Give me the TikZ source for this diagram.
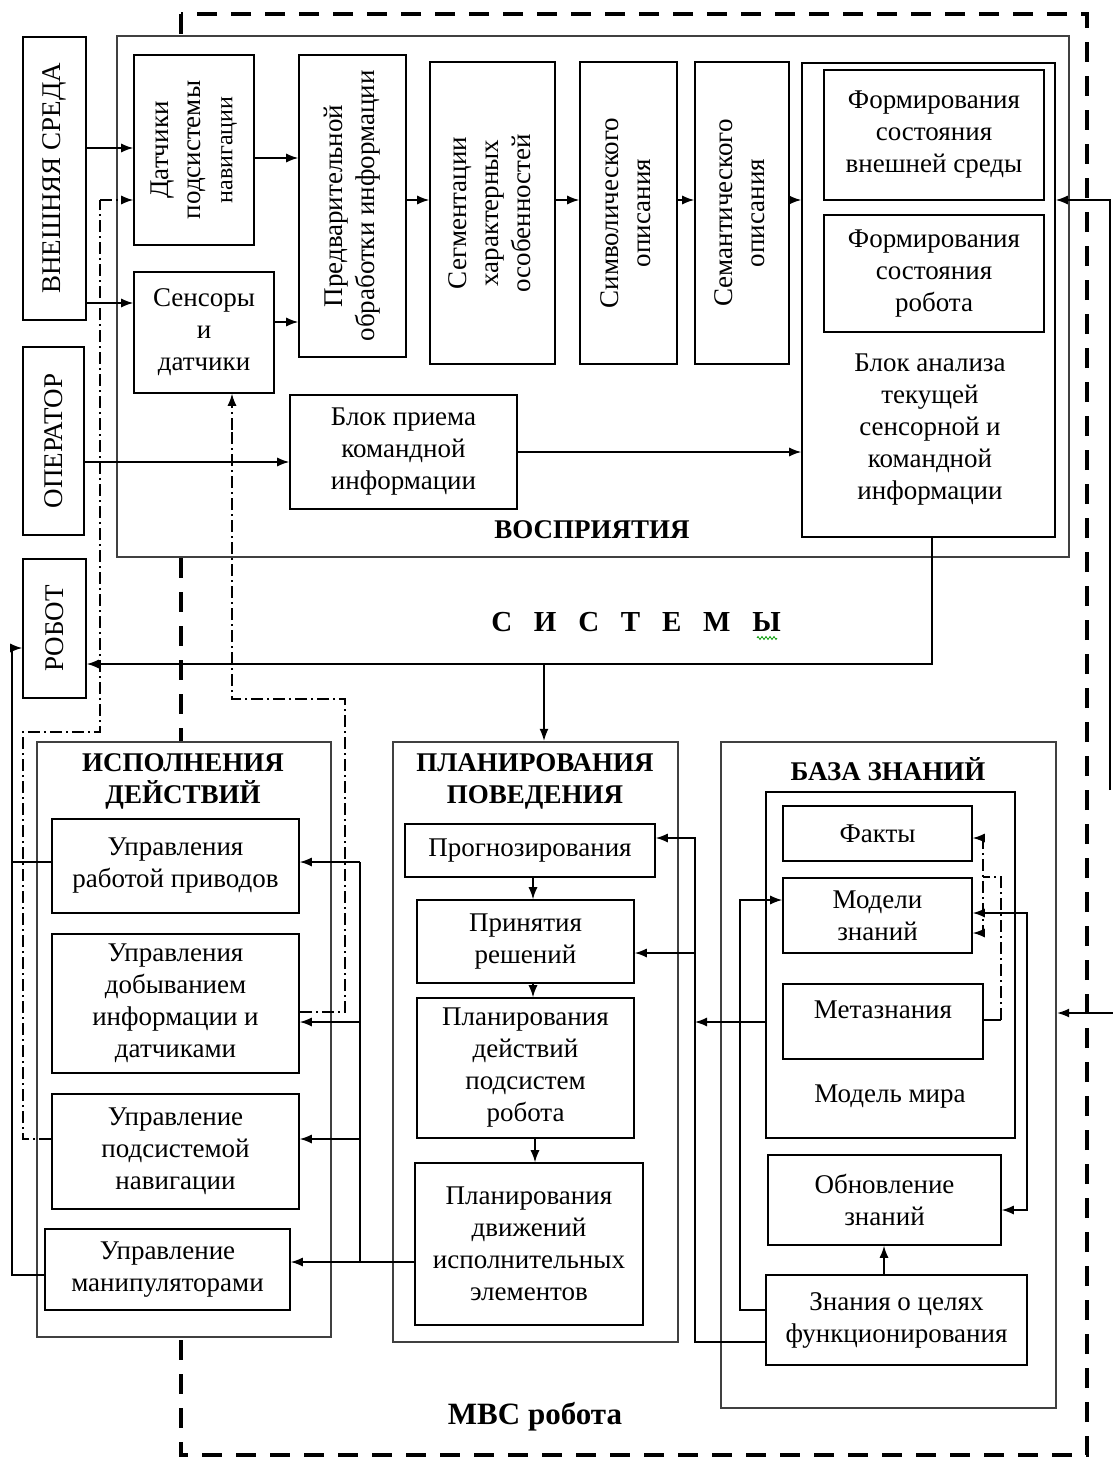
\documentclass[tikz,border=0pt]{standalone}
\usepackage{fontspec}
\setmainfont{Liberation Serif}
\usepackage{graphicx}
\usetikzlibrary{arrows.meta,decorations.pathmorphing}
\newcommand{\rtxt}[1]{\rotatebox{90}{\begin{tabular}{@{}c@{}}#1\end{tabular}}}
\begin{document}
\begin{tikzpicture}[x=1pt,y=-1pt,
  font=\fontsize{27}{32}\selectfont,
  bx/.style={draw, line width=1.6pt, fill=white, inner sep=0pt, align=center},
  cont/.style={draw=black!75, line width=2.4pt, fill=white, inner sep=0pt},
  txt/.style={align=center, inner sep=0pt},
  ttl/.style={align=center, inner sep=0pt, font=\fontsize{27}{32}\selectfont\bfseries},
  ln/.style={line width=1.3pt},
  arr/.style={line width=1.3pt, -{Latex[length=12pt,width=9pt]}},
  arrb/.style={line width=1.3pt, {Latex[length=12pt,width=9pt]}-{Latex[length=12pt,width=9pt]}},
  dd/.style={line width=1.2pt, dash pattern=on 12pt off 4pt on 2pt off 4pt},
  bigdash/.style={line width=4pt, dash pattern=on 20pt off 14pt}
]
\useasboundingbox (0,0) rectangle (1113,1461);
\fill[white] (0,0) rectangle (1113,1461);

% outer dashed frame (MVS robota)
\draw[bigdash] (181,14) rectangle (1087,1455);

% external boxes
\node[bx, minimum width=63pt, minimum height=283pt] (vs) at (54.5,178.5) {\rotatebox{90}{ВНЕШНЯЯ СРЕДА}};
\node[bx, minimum width=61pt, minimum height=188pt] (op) at (53.5,441) {\rotatebox{90}{ОПЕРАТОР}};
\node[bx, minimum width=63pt, minimum height=139pt] (rob) at (54.5,628.5) {\rotatebox{90}{РОБОТ}};

% perception system
\node[cont, minimum width=952pt, minimum height=521pt] (vospr) at (593,296.5) {};
\node[bx, minimum width=120pt, minimum height=190pt] (dat) at (194,150) {\rtxt{Датчики\\подсистемы\\{\fontsize{24}{30}\selectfont навигации}}};
\node[bx, minimum width=140pt, minimum height=121pt] (sen) at (204,332.5) {Сенсоры\\и\\датчики};
\node[bx, minimum width=107pt, minimum height=302pt] (pred) at (352.5,206) {\rtxt{Предварительной\\обработки информации}};
\node[bx, minimum width=125pt, minimum height=302pt] (seg) at (492.5,213) {\rtxt{Сегментации\\характерных\\особенностей}};
\node[bx, minimum width=97pt, minimum height=302pt] (sym) at (628.5,213) {\rtxt{Символического\\описания}};
\node[bx, minimum width=94pt, minimum height=302pt] (sem) at (742,213) {\rtxt{Семантического\\описания}};
\node[bx, minimum width=253pt, minimum height=474pt] (an) at (928.5,300) {};
\node[bx, minimum width=220pt, minimum height=130pt] (f1) at (934,135) {Формирования\\состояния\\внешней среды};
\node[bx, minimum width=220pt, minimum height=117pt] (f2) at (934,273.5) {Формирования\\состояния\\робота};
\node[txt] (anT) at (930,430) {Блок анализа\\текущей\\сенсорной и\\командной\\информации};
\node[bx, minimum width=227pt, minimum height=114pt] (priem) at (403.5,452) {Блок приема\\командной\\информации};
\node[ttl] (vosT) at (592,530) {ВОСПРИЯТИЯ};

\node[ttl, font=\fontsize{29}{32}\selectfont\bfseries] (sysT) at (636,622) {С\hspace{0.75em}И\hspace{0.75em}С\hspace{0.75em}Т\hspace{0.75em}Е\hspace{0.75em}М\hspace{0.75em}Ы};
\draw[green!60!black, line width=0.8pt, decorate, decoration={zigzag,segment length=4pt,amplitude=1.5pt}] (757,638) -- (777,638);

% execution
\node[cont, minimum width=294pt, minimum height=595pt] (isp) at (184,1039.5) {};
\node[ttl] (ispT) at (183,781.5) {ИСПОЛНЕНИЯ\\ДЕЙСТВИЙ};
\node[bx, minimum width=247pt, minimum height=94pt] (u1) at (175.5,866) {Управления\\работой приводов};
\node[bx, minimum width=247pt, minimum height=139pt] (u2) at (175.5,1003.5) {Управления\\добыванием\\информации и\\датчиками};
\node[bx, minimum width=247pt, minimum height=115pt] (u3) at (175.5,1151.5) {Управление\\подсистемой\\навигации};
\node[bx, minimum width=245pt, minimum height=81pt] (u4) at (167.5,1269.5) {Управление\\манипуляторами};

% planning
\node[cont, minimum width=285pt, minimum height=600pt] (plan) at (535.5,1042) {};
\node[ttl] (planT) at (535,781.5) {ПЛАНИРОВАНИЯ\\ПОВЕДЕНИЯ};
\node[bx, minimum width=250pt, minimum height=53pt] (p1) at (530,850.5) {Прогнозирования};
\node[bx, minimum width=217pt, minimum height=83pt] (p2) at (525.5,941.5) {Принятия\\решений};
\node[bx, minimum width=217pt, minimum height=140pt] (p3) at (525.5,1068) {Планирования\\действий\\подсистем\\робота};
\node[bx, minimum width=228pt, minimum height=162pt] (p4) at (529,1244) {Планирования\\движений\\исполнительных\\элементов};

% knowledge base
\node[cont, minimum width=335pt, minimum height=666pt] (baza) at (888.5,1075) {};
\node[ttl] (bazaT) at (888,769) {БАЗА ЗНАНИЙ};
\node[bx, minimum width=249pt, minimum height=346pt] (mm) at (890.5,965) {};
\node[txt] (mmT) at (890,1097) {Модель мира};
\node[bx, minimum width=189pt, minimum height=55pt] (fk) at (877.5,833.5) {Факты};
\node[bx, minimum width=189pt, minimum height=75pt] (mz) at (877.5,915.5) {Модели\\знаний};
\node[bx, minimum width=200pt, minimum height=75pt] (meta) at (883,1021.5) {};
\node[txt] (metaT) at (883,1010) {Метазнания};
\node[bx, minimum width=233pt, minimum height=90pt] (ob) at (884.5,1200) {Обновление\\знаний};
\node[bx, minimum width=261pt, minimum height=90pt] (zc) at (896.5,1320) {Знания о целях\\функционирования};

\node[ttl, font=\fontsize{31}{34}\selectfont\bfseries] (mvsT) at (535,1417) {МВС робота};

% ---- connectors: perception
\draw[arr] (vs.east |- 0,148) -- (dat.west |- 0,148);
\draw[arr] (vs.east |- 0,303) -- (sen.west |- 0,303);
\draw[arr] (dat.east |- 0,158) -- (pred.west |- 0,158);
\draw[arr] (sen.east |- 0,322) -- (pred.west |- 0,322);
\draw[arr] (pred.east |- 0,200) -- (seg.west |- 0,200);
\draw[arr] (seg.east |- 0,200) -- (sym.west |- 0,200);
\draw[arr] (sym.east |- 0,200) -- (sem.west |- 0,200);
\draw[arr] (sem.east |- 0,200) -- (an.west |- 0,200);
\draw[arr] (op.east |- 0,462) -- (priem.west |- 0,462);
\draw[arr] (priem.east |- 0,452) -- (an.west |- 0,452);

% analysis -> robot / planning
\coordinate (j1) at (544,664);
\draw[arr] (an.south -| 932,0) |- (rob.east |- 0,664);
\draw[arr] (j1) -- (plan.north -| j1);

% right side inputs
\coordinate (rt1) at (1110,790);
\coordinate (rt2) at (1113,1013);
\draw[arr] (rt1) -- (1110,200) -- (an.east |- 0,200);
\draw[arr] (rt2) -- (baza.east |- 0,1013);

% feedback to robot
\coordinate (fb) at (12,648);
\draw[arr] (u4.west |- 0,1275) -| (fb) -- (rob.west |- fb);
\draw[ln] (u1.west |- 0,862) -- (12,862);

% dash-dot lines
\draw[dd] (u3.west |- 0,1139) -| (23,732) -| (100,200);
\draw[arr, dash pattern=on 12pt off 4pt on 2pt off 4pt, line width=1.2pt] (100,200) -- (dat.west |- 0,200);
\draw[dd] (u2.east |- 0,1012) -| (345,699) -| (232,430);
\draw[arr, dash pattern=on 12pt off 4pt on 2pt off 4pt, line width=1.2pt] (232,430) -- (sen.south -| 232,0);

% planning -> execution
\draw[arr] (p4.west |- 0,1262) -- (u4.east |- 0,1262);
\draw[ln] (360,1262) -- (360,862);
\draw[arr] (360,862) -- (u1.east |- 0,862);
\draw[arr] (360,1022) -- (u2.east |- 0,1022);
\draw[arr] (360,1139) -- (u3.east |- 0,1139);

% planning chain
\draw[arr] (p1.south -| 533,0) -- (p2.north -| 533,0);
\draw[arr] (p2.south -| 533,0) -- (p3.north -| 533,0);
\draw[arr] (p3.south -| 535,0) -- (p4.north -| 535,0);

% knowledge base -> planning
\draw[arr] (zc.west |- 0,1342) -| (695,838) -- (p1.east |- 0,838);
\draw[arr] (695,953) -- (p2.east |- 0,953);
\draw[arr] (mm.west |- 0,1022) -- (695,1022);

% inside knowledge base
\draw[arr] (zc.west |- 0,1310) -| (740,900) -- (mz.west |- 0,900);
\draw[arr] (zc.north -| 884,0) -- (ob.south -| 884,0);
\draw[arrb] (mz.east |- 0,913) -| (1027,1210) -- (ob.east |- 0,1210);
\draw[ln] (meta.east |- 0,1020) -- (1001,1020);
\draw[dd] (1001,1020) |- (983,877);
\draw[arrb, dash pattern=on 12pt off 4pt on 2pt off 4pt, line width=1.2pt] (fk.east |- 0,838) -- (983,838) -- (983,933) -- (mz.east |- 0,933);
\end{tikzpicture}
\end{document}
